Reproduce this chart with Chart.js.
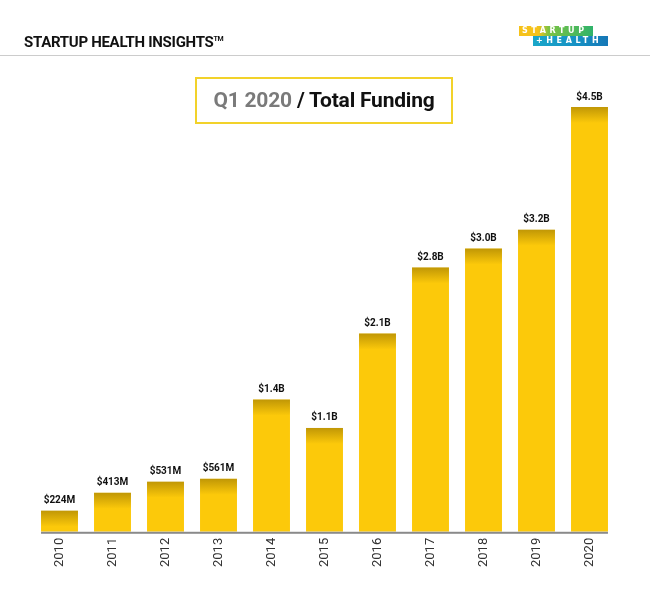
<!DOCTYPE html>
<html>
<head>
<meta charset="utf-8">
<script src="https://cdn.jsdelivr.net/npm/chart.js@4"></script>
<style>
  body { margin: 0; background: #fff; font-family: Roboto, "Liberation Sans", sans-serif; }
  #wrap { position: relative; width: 650px; height: 592px; overflow: hidden; }
  #chart { position: absolute; left: 0; top: 0; }
  .brand { position: absolute; left: 24px; top: 33px; font-size: 15px; font-weight: 700; color: #111; letter-spacing: -0.3px; }
  .brand sup { font-size: 7px; vertical-align: 6px; }
  .rule { position: absolute; left: 0; top: 55px; width: 650px; height: 1px; background: #ccc; }
  .title { position: absolute; left: 195px; top: 77px; width: 254px; height: 43px; border: 2px solid #f2d22a;
           box-sizing: content-box; text-align: center; line-height: 43px; font-size: 21px; font-weight: 700; color: #111; letter-spacing: -0.2px; }
  .title span { color: #7a7a7a; }
  .logo { position: absolute; left: 519px; top: 26px; font-family: "DejaVu Sans", sans-serif; font-size: 8px; font-weight: 700; color: #fff; }
  .logo div { height: 10px; line-height: 10px; letter-spacing: 3.6px; padding-left: 3px; overflow: hidden; white-space: nowrap; }
  .logo .r1 { width: 71px; background: linear-gradient(90deg, #f6c21a 0%, #f6c21a 26%, #7cc242 40%, #2fb36b 100%); }
  .logo .r2 { width: 72px; margin-left: 14px; background: linear-gradient(90deg, #1aa7c9 0%, #1590c4 60%, #1677b6 100%); }
</style>
</head>
<body>
<div id="wrap">
  <canvas id="chart" width="650" height="592"></canvas>
  <div class="brand">STARTUP HEALTH INSIGHTS<sup>TM</sup></div>
  <div class="rule"></div>
  <div class="logo"><div class="r1">STARTUP</div><div class="r2">+HEALTH</div></div>
  <div class="title"><span>Q1 2020</span> / Total Funding</div>
</div>
<script>
const years = ['2010', '2011', '2012', '2013', '2014', '2015', '2016', '2017', '2018', '2019', '2020'];
const funding = [224, 413, 531, 561, 1400, 1100, 2100, 2800, 3000, 3200, 4500]; // $M
const valueLabels = ['$224M', '$413M', '$531M', '$561M', '$1.4B', '$1.1B', '$2.1B', '$2.8B', '$3.0B', '$3.2B', '$4.5B'];

// value labels, darker top band and the base line
const barExtras = {
    id: 'barExtras',
    afterDatasetsDraw(chart) {
        const ctx = chart.ctx;
        const bars = chart.getDatasetMeta(0).data;
        ctx.save();
        bars.forEach((bar, i) => {
            const left = bar.x - bar.width / 2;
            const shade = ctx.createLinearGradient(0, bar.y, 0, bar.y + 16);
            shade.addColorStop(0, 'rgba(120, 90, 0, 0.45)');
            shade.addColorStop(1, 'rgba(120, 90, 0, 0)');
            ctx.fillStyle = shade;
            ctx.fillRect(left, bar.y, bar.width, 16);
            ctx.fillStyle = '#111';
            ctx.font = 'bold 10px Roboto, sans-serif';
            ctx.textAlign = 'center';
            ctx.textBaseline = 'bottom';
            ctx.fillText(valueLabels[i], bar.x, bar.y - 5);
        });
        const first = bars[0], last = bars[bars.length - 1];
        ctx.fillStyle = '#8a8a8a';
        ctx.fillRect(first.x - first.width / 2, chart.chartArea.bottom, (last.x + last.width / 2) - (first.x - first.width / 2), 2);
        ctx.restore();
    }
};

new Chart(document.getElementById('chart'), {
    type: 'bar',
    data: {
        labels: years,
        datasets: [{
            data: funding,
            backgroundColor: (c) => {
                const bar = c.element;
                if (!bar || bar.x === undefined || isNaN(bar.x)) return '#fcc90a';
                const l = bar.x - bar.width / 2;
                const g = c.chart.ctx.createLinearGradient(l, 0, l + bar.width, 0);
                g.addColorStop(0, '#c29a05');
                g.addColorStop(0.3, '#f2c00a');
                g.addColorStop(0.6, '#fdca0b');
                g.addColorStop(1, '#fdca0b');
                return g;
            },
            barPercentage: 0.697,
            categoryPercentage: 1.0
        }]
    },
    options: {
        responsive: false,
        animation: false,
        layout: { padding: { left: 33, right: 34, top: 107, bottom: 19 } },
        plugins: { legend: { display: false }, tooltip: { enabled: false } },
        scales: {
            x: {
                grid: { display: false, drawTicks: false },
                border: { display: false },
                ticks: {
                    color: '#333',
                    font: { family: 'Roboto', size: 13 },
                    minRotation: 90, maxRotation: 90,
                    padding: 6
                }
            },
            y: {
                display: false,
                min: 0,
                max: 4500
            }
        }
    },
    plugins: [barExtras]
});
</script>
</body>
</html>
